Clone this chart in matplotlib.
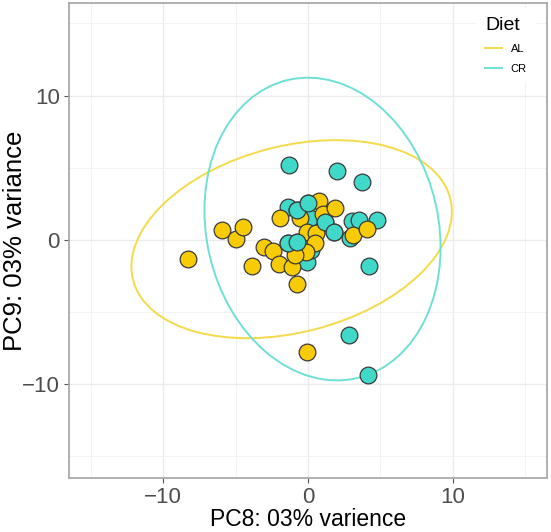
import matplotlib.pyplot as plt
from matplotlib.patches import Ellipse
from matplotlib.lines import Line2D

plt.rcParams['font.family'] = ['Liberation Sans', 'DejaVu Sans']

# PC scores
al_x = [-8.25, -5.91, -4.99, -4.46, -3.84, -3.03, -2.39, -1.98, -1.08, -0.74,
        -1.93, -0.55, 0.78, 1.06, 1.86, -0.09, 0.55, 0.48, -0.14, -0.90,
        3.10, 4.09, -0.09]
al_y = [-1.34, 0.69, 0.05, 0.88, -1.80, -0.46, -0.76, -1.68, -1.85, -3.04,
        1.50, 1.50, 2.70, 1.78, 2.19, 0.58, 0.51, -0.25, -0.81, -1.04,
        0.35, 0.75, -7.80]
cr_x = [-1.29, 1.98, 3.70, -1.36, -0.74, 0.02, 0.14, 1.17, 1.77, 3.01,
        3.55, 4.74, 2.90, -1.36, -0.78, -0.09, 0.20, 4.20, 2.85, 4.11]
cr_y = [5.20, 4.78, 4.04, 2.30, 2.08, 2.54, 1.50, 1.27, 0.58, 1.34,
        1.38, 1.38, 0.15, -0.25, -0.12, -1.53, -0.70, -1.80, -6.57, -9.34]

# ellipse params: center, full width, full height, angle
al_ell = ((-1.13, 0.05), 22.6, 12.9, 14.6)
cr_ell = ((1.00, 0.75), 21.2, 16.0, 102.8)

groups = ['AL', 'CR']
fill = {'AL': '#F7CB05', 'CR': '#40D9C9'}
ring = {'AL': '#F5DA4A', 'CR': '#6FE0D5'}

fig = plt.figure(figsize=(5.51, 5.32), dpi=100)
ax = fig.add_axes([0.125, 0.1015, 0.868, 0.8925])

for g, ell in zip(groups, [al_ell, cr_ell]):
    e = Ellipse(ell[0], ell[1], ell[2], angle=ell[3], fill=False,
                edgecolor=ring[g], lw=1.4, zorder=2)
    ax.add_patch(e)

# cyan first, then yellow, with a few cyan on top like the original
ax.scatter(cr_x, cr_y, s=145, c=fill['CR'], edgecolors='#3a3a3a',
           linewidths=0.9, zorder=3)
ax.scatter(al_x, al_y, s=145, c=fill['AL'], edgecolors='#3a3a3a',
           linewidths=0.9, zorder=4)
top = [4, 5, 7, 8, 13, 14]
ax.scatter([cr_x[i] for i in top], [cr_y[i] for i in top], s=145,
           c=fill['CR'], edgecolors='#3a3a3a', linewidths=0.9, zorder=5)

ax.set_xlim(-16.5, 16.5)
ax.set_ylim(-16.5, 16.4)
ax.set_xticks([-10, 0, 10])
ax.set_yticks([-10, 0, 10])
ax.set_xticks([-15, -5, 5, 15], minor=True)
ax.set_yticks([-15, -5, 5, 15], minor=True)
ax.set_xticklabels(['\u221210', '0', '10'])
ax.set_yticklabels(['\u221210', '0', '10'])
ax.grid(True, which='major', color='#EBEBEB', lw=1.0, zorder=0)
ax.grid(True, which='minor', color='#F3F3F3', lw=0.7, zorder=0)
ax.set_axisbelow(True)
ax.tick_params(which='major', length=3.5, color='#555555', labelsize=16,
               labelcolor='#4D4D4D', pad=3)
ax.tick_params(which='minor', length=0)
for sp in ax.spines.values():
    sp.set_color('#AAAAAA')
    sp.set_linewidth(1.3)

ax.set_xlabel('PC8: 03% varience', fontsize=16.5, labelpad=0)
ax.set_ylabel('PC9: 03% variance', fontsize=18.5)
ax.yaxis.set_label_coords(-0.087, 0.5)

handles = [Line2D([], [], color=ring[g], lw=1.4) for g in groups]
leg = ax.legend(handles, groups, title='Diet', loc='upper right',
                bbox_to_anchor=(0.985, 1.0), frameon=True, fontsize=8,
                title_fontsize=14, handlelength=1.5, borderpad=0.7,
                labelspacing=0.9)
leg.get_frame().set_edgecolor('white')
leg.get_frame().set_facecolor('white')
leg.get_frame().set_alpha(1)
leg._legend_box.align = 'left'

fig.savefig('out.png', dpi=100)
